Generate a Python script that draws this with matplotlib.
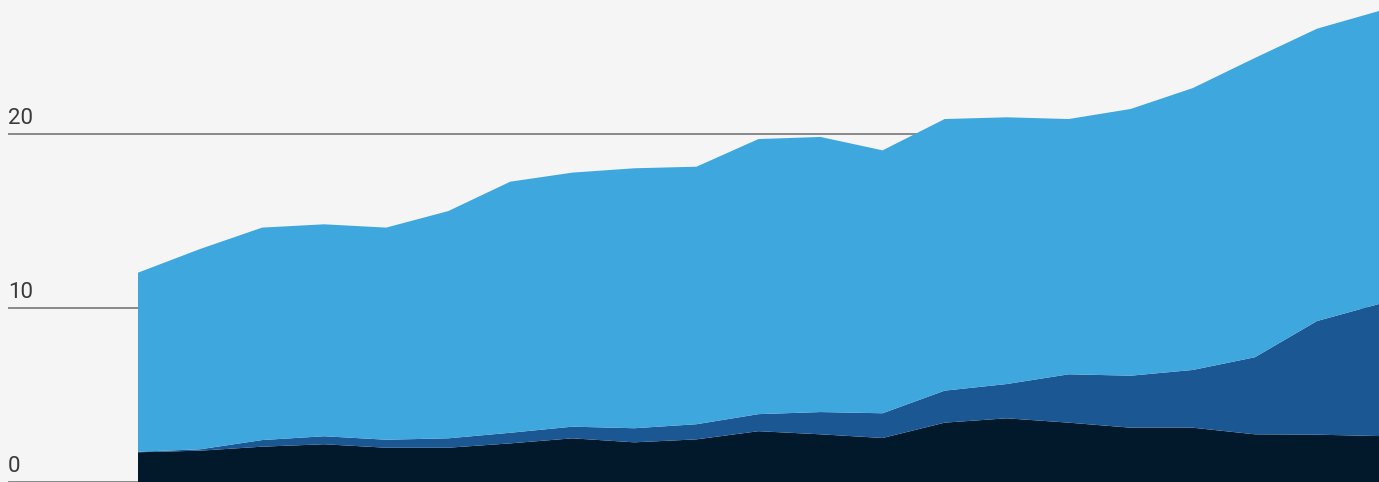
import numpy as np
import matplotlib.pyplot as plt

# values, one per period
periods = np.arange(21)
base = [1.71, 1.80, 2.03, 2.17, 1.97, 1.97, 2.22, 2.51, 2.28, 2.45, 2.92,
        2.74, 2.53, 3.41, 3.66, 3.41, 3.12, 3.12, 2.74, 2.72, 2.64]
middle = [0.03, 0.08, 0.38, 0.46, 0.46, 0.54, 0.61, 0.67, 0.81, 0.87, 0.98,
          1.28, 1.42, 1.84, 1.97, 2.78, 2.99, 3.32, 4.43, 6.53, 7.59]
top = [10.29, 11.51, 12.21, 12.18, 12.19, 13.06, 14.43, 14.60, 14.94, 14.80, 15.81,
       15.81, 15.11, 15.61, 15.33, 14.67, 15.33, 16.20, 17.20, 16.80, 16.84]
y_ticks = [0, 10, 20]

colors = ['#02182b', '#1a5793', '#3da7de']
bg = '#f5f5f5'

fig = plt.figure(figsize=(13.79, 4.82), dpi=100, facecolor=bg)
ax = fig.add_axes([0, 0, 1, 1])
ax.set_facecolor(bg)

x_left = -138 / 62.05
ax.set_xlim(x_left, 20)
ax.set_ylim(0, 482 / 17.4)

for t in y_ticks:
    ax.axhline(t, xmin=9 / 1379, xmax=1, color='#8a8a8a', lw=1.4, zorder=1)
    ax.text(x_left + 8 / 62.05, t + 0.3, str(t), fontsize=16, color='#3a3a3a',
            family='Roboto', weight='normal', ha='left', va='bottom', zorder=3)

ax.stackplot(periods, base, middle, top, colors=colors, lw=0, zorder=2)

ax.axis('off')
fig.savefig('out.png', dpi=100, facecolor=bg)
